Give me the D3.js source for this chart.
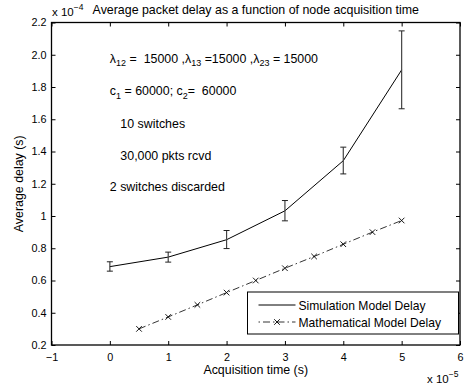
<!DOCTYPE html>
<html>
<head>
<meta charset="utf-8">
<script src="https://cdn.jsdelivr.net/npm/d3@7"></script>
<style>
  body { margin: 0; background: #fff; }
  svg { display: block; font-family: "Liberation Sans", Arial, sans-serif; }
  .tick text { font-size: 10.8px; fill: #000; }
  text { white-space: pre; }
</style>
</head>
<body>
<svg id="chart"></svg>
<script>
// simulation results (x in units of 1e-5 s, y in units of 1e-4 s)
const simX = [0, 1, 2, 3, 4, 5];
const simY = [0.686, 0.745, 0.853, 1.032, 1.343, 1.906];
const simLow = [0.658, 0.714, 0.798, 0.970, 1.261, 1.665];
const simHigh = [0.716, 0.776, 0.910, 1.096, 1.427, 2.148];

// mathematical model
const mathX = [0.5, 1, 1.5, 2, 2.5, 3, 3.5, 4, 4.5, 5];
const mathY = [0.300, 0.374, 0.449, 0.525, 0.600, 0.676, 0.749, 0.825, 0.900, 0.972];

const xTicks = [-1, 0, 1, 2, 3, 4, 5, 6];
const yTicks = [0.2, 0.4, 0.6, 0.8, 1, 1.2, 1.4, 1.6, 1.8, 2, 2.2];

const legendLabels = ['Simulation Model Delay', 'Mathematical Model Delay'];

const width = 464, height = 387;
const margin = {top: 22.5, right: 4, bottom: 42, left: 51.5};
const w = width - margin.left - margin.right;
const h = height - margin.top - margin.bottom;
const fs = '12.4px';

const svg = d3.select('#chart')
    .attr('width', width)
    .attr('height', height);

const chart = svg.append('g')
    .attr('transform', `translate(${margin.left},${margin.top})`);

const xScale = d3.scaleLinear().domain([-1, 6]).range([0, w]);
const yScale = d3.scaleLinear().domain([0.2, 2.2]).range([h, 0]);

const fmtY = d => (d === 1 ? '1' : d3.format('.1f')(d));

// axes, MATLAB style: inward ticks on all four sides
chart.append('g')
    .attr('transform', `translate(0,${h})`)
    .call(d3.axisBottom(xScale).tickValues(xTicks).tickSizeInner(-4).tickSizeOuter(0).tickPadding(8)
        .tickFormat(d => d < 0 ? '\u2212' + Math.abs(d) : d))
    .call(g => g.select('.domain').remove());

chart.append('g')
    .call(d3.axisTop(xScale).tickValues(xTicks).tickSizeInner(-4).tickSizeOuter(0).tickFormat(''))
    .call(g => g.select('.domain').remove());

chart.append('g')
    .call(d3.axisLeft(yScale).tickValues(yTicks).tickSizeInner(-4).tickSizeOuter(0).tickPadding(5).tickFormat(fmtY))
    .call(g => g.select('.domain').remove());

chart.append('g')
    .attr('transform', `translate(${w},0)`)
    .call(d3.axisRight(yScale).tickValues(yTicks).tickSizeInner(-4).tickSizeOuter(0).tickFormat(''))
    .call(g => g.select('.domain').remove());

chart.selectAll('.tick line').attr('stroke', '#000').attr('stroke-width', 1);

chart.append('rect')
    .attr('width', w)
    .attr('height', h)
    .attr('fill', 'none')
    .attr('stroke', '#000')
    .attr('stroke-width', 1.3);

// simulation line
const simData = simX.map((x, i) => ({x, y: simY[i], lo: simLow[i], hi: simHigh[i]}));
chart.append('path')
    .datum(simData)
    .attr('fill', 'none')
    .attr('stroke', '#000')
    .attr('stroke-width', 1)
    .attr('d', d3.line().x(d => xScale(d.x)).y(d => yScale(d.y)));

// error bars
const eb = chart.selectAll('.errbar')
    .data(simData)
    .join('g')
    .attr('class', 'errbar');
eb.append('line')
    .attr('x1', d => xScale(d.x)).attr('x2', d => xScale(d.x))
    .attr('y1', d => yScale(d.lo)).attr('y2', d => yScale(d.hi))
    .attr('stroke', '#444').attr('stroke-width', 1.2);
eb.selectAll('.cap')
    .data(d => [{x: d.x, y: d.lo}, {x: d.x, y: d.hi}])
    .join('line')
    .attr('class', 'cap')
    .attr('x1', d => xScale(d.x) - 3).attr('x2', d => xScale(d.x) + 3)
    .attr('y1', d => yScale(d.y)).attr('y2', d => yScale(d.y))
    .attr('stroke', '#222').attr('stroke-width', 1);

// mathematical model line (dash-dot with x markers)
const mathData = mathX.map((x, i) => ({x, y: mathY[i]}));
chart.append('path')
    .datum(mathData)
    .attr('fill', 'none')
    .attr('stroke', '#000')
    .attr('stroke-width', 0.8)
    .attr('stroke-dasharray', '7,3,1.5,3')
    .attr('d', d3.line().x(d => xScale(d.x)).y(d => yScale(d.y)));

const xMark = (g, cx, cy, s) => {
    g.append('path')
        .attr('d', `M${cx - s},${cy - s}L${cx + s},${cy + s}M${cx - s},${cy + s}L${cx + s},${cy - s}`)
        .attr('stroke', '#000')
        .attr('stroke-width', 0.9)
        .attr('fill', 'none');
};
const marks = chart.append('g');
mathData.forEach(d => xMark(marks, xScale(d.x), yScale(d.y), 2.8));

// annotations
const notes = chart.append('g').style('font-size', fs);
const sub = (t, s) => {
    t.append('tspan').attr('dy', 3.5).style('font-size', '9px').text(s);
};
const t1 = notes.append('text').attr('x', xScale(0)).attr('y', yScale(1.95));
const lam = (s, val) => {
    t1.append('tspan').text('\u03bb');
    sub(t1, s);
    t1.append('tspan').attr('dy', -3.5).text(val);
};
lam('12', ' =  15000 ,');
lam('13', ' =15000 ,');
lam('23', ' = 15000');

const t2 = notes.append('text').attr('x', xScale(0)).attr('y', yScale(1.75));
t2.append('tspan').text('c');
sub(t2, '1');
t2.append('tspan').attr('dy', -3.5).text(' = 60000; c');
sub(t2, '2');
t2.append('tspan').attr('dy', -3.5).text('=  60000');

notes.append('text').attr('x', xScale(0.18)).attr('y', yScale(1.548)).text('10 switches');
notes.append('text').attr('x', xScale(0.18)).attr('y', yScale(1.35)).text('30,000 pkts rcvd');
notes.append('text').attr('x', xScale(0)).attr('y', yScale(1.152)).text('2 switches discarded');

// legend
const lg = chart.append('g').attr('transform', `translate(${w - 212.5},${h - 53})`);
lg.append('rect')
    .attr('width', 211).attr('height', 42)
    .attr('fill', '#fff').attr('stroke', '#000').attr('stroke-width', 1);
lg.append('line').attr('x1', 11).attr('x2', 48).attr('y1', 13).attr('y2', 13)
    .attr('stroke', '#000').attr('stroke-width', 1);
lg.append('line').attr('x1', 11).attr('x2', 48).attr('y1', 30).attr('y2', 30)
    .attr('stroke', '#000').attr('stroke-width', 0.8).attr('stroke-dasharray', '1.5,3,7,3');
xMark(lg, 29.5, 30, 2.8);
lg.selectAll('.lbl')
    .data(legendLabels)
    .join('text')
    .attr('x', 51)
    .attr('y', (d, i) => 17.5 + i * 17)
    .style('font-size', '12.1px')
    .text(d => d);

// titles
svg.append('text')
    .attr('x', margin.left + w / 2)
    .attr('y', 13.5)
    .attr('text-anchor', 'middle')
    .style('font-size', fs)
    .text('Average packet delay as a function of node acquisition time');

const e4 = svg.append('text').attr('x', 52).attr('y', 16).style('font-size', '11.5px');
e4.append('tspan').text('x 10');
e4.append('tspan').attr('dy', -6).style('font-size', '8.5px').text('\u22124');

svg.append('text')
    .attr('x', margin.left + w / 2)
    .attr('y', 374)
    .attr('text-anchor', 'middle')
    .style('font-size', fs)
    .text('Acquisition time (s)');

const e5 = svg.append('text').attr('x', 427).attr('y', 383).style('font-size', '11.5px');
e5.append('tspan').text('x 10');
e5.append('tspan').attr('dy', -6).style('font-size', '8.5px').text('\u22125');

svg.append('text')
    .attr('transform', `translate(23,${margin.top + h / 2}) rotate(-90)`)
    .attr('text-anchor', 'middle')
    .style('font-size', fs)
    .text('Average delay (s)');
</script>
</body>
</html>
